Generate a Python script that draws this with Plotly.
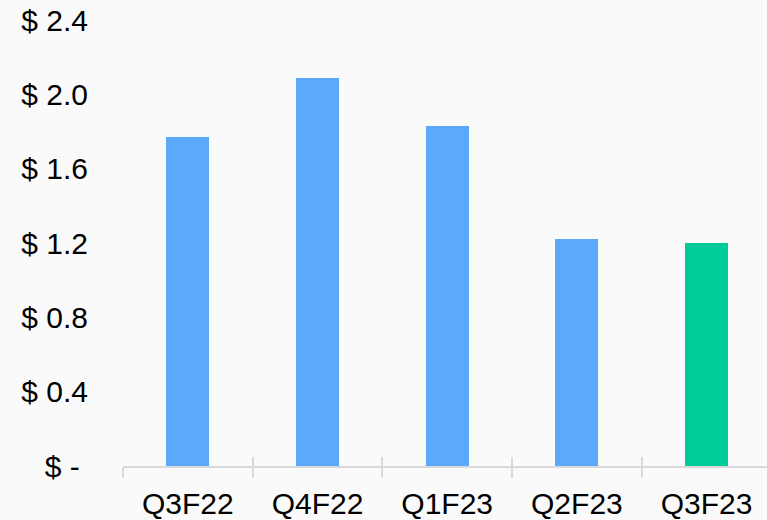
import plotly.graph_objects as go

categories = ["Q3F22", "Q4F22", "Q1F23", "Q2F23", "Q3F23"]
values = [1.77, 2.09, 1.83, 1.22, 1.20]
bar_colors = ["#5CA8FB", "#5CA8FB", "#5CA8FB", "#5CA8FB", "#00CC99"]
y_tickvals = [0, 0.4, 0.8, 1.2, 1.6, 2.0, 2.4]
y_ticktext = ["$ -\u00a0", "$ 0.4", "$ 0.8", "$ 1.2", "$ 1.6", "$ 2.0", "$ 2.4"]

fig = go.Figure()
fig.add_trace(go.Bar(
    x=categories, y=values, marker=dict(color=bar_colors, line=dict(width=0)),
    width=0.33, showlegend=False, hoverinfo="skip",
))
# invisible companion trace so the overlay axis (inner tick halves) is drawn
fig.add_trace(go.Scatter(
    x=list(range(len(categories))), y=values, xaxis="x2", mode="none",
    showlegend=False, hoverinfo="skip",
))

font = dict(family="Liberation Sans, Arial, sans-serif", size=30, color="#000000")
xr = [-0.5, 4.466]
fig.update_layout(
    width=767, height=520,
    margin=dict(l=123, r=0, t=20, b=54),
    paper_bgcolor="#FAFAFA", plot_bgcolor="#FAFAFA",
    font=font,
    xaxis=dict(
        type="category", range=xr, tickson="boundaries",
        ticks="outside", ticklen=10, tickwidth=2, tickcolor="#D9D9D9",
        showline=True, linecolor="#D9D9D9", linewidth=2,
        showgrid=False, zeroline=False, tickfont=font, ticklabelstandoff=10,
    ),
    xaxis2=dict(
        overlaying="x", anchor="y", side="bottom", range=xr, type="linear",
        tickvals=[-0.5, 0.5, 1.5, 2.5, 3.5, 4.5],
        ticks="inside", ticklen=9, tickwidth=2, tickcolor="#D9D9D9",
        showticklabels=False, showline=False, showgrid=False, zeroline=False,
    ),
    yaxis=dict(
        range=[0, 2.4], tickvals=y_tickvals, ticktext=y_ticktext,
        showgrid=False, zeroline=False, showline=False, ticks="",
        tickfont=font, ticklabelstandoff=34,
    ),
    bargap=0,
)

fig.write_html(
    "out.html",
    config={"displayModeBar": False},
    post_script="document.body.style.margin='0';document.body.style.padding='0';"
                "document.body.style.background='#FAFAFA';"
                "document.body.style.overflow='hidden';",
)
